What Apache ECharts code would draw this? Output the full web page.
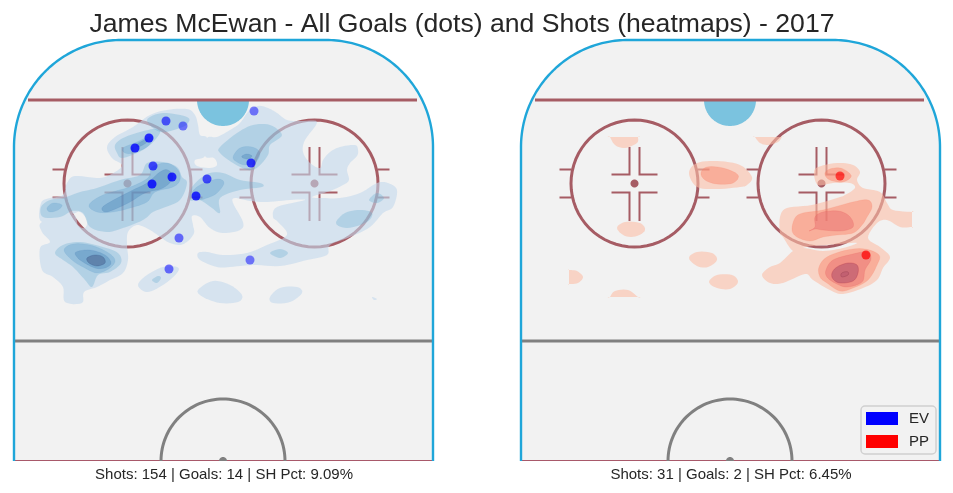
<!DOCTYPE html>
<html><head><meta charset="utf-8">
<style>html,body{margin:0;padding:0;background:#fff}#c{width:953px;height:493px}</style>
<script src="https://cdn.jsdelivr.net/npm/echarts@6/dist/echarts.min.js"></script>
</head><body><div id="c"></div>
<script>
const chartTitle = 'James McEwan - All Goals (dots) and Shots (heatmaps) - 2017';
const evCaption = 'Shots: 154 | Goals: 14 | SH Pct: 9.09%';
const ppCaption = 'Shots: 31 | Goals: 2 | SH Pct: 6.45%';

// goals in rink units (x from the left boards, y from the far boards)
const evGoals = [[152,81],[169,86],[135,98],[121,108],[139,126],[158,137],[138,144],[193,139],[182,156],[240,71],[237,123],[165,198],[155,229],[236,220]];
const evGoalDepth = [.62,.5,.8,.8,.68,.8,.82,.66,.8,.5,.75,.55,.55,.5];
const ppGoals = [[319,136],[345,215]];
const ppGoalDepth = [.65,.72];

// shot density contours, one list of outlines per level
const evLevel1 = [
 [[27,163],[36,158],[49,155],[53,143],[61,136],[86,138],[101,132],[108,125],[98,118],[93,107],[101,97],[119,87],[136,75],[153,70],[173,69],[181,75],[184,85],[186,95],[193,98],[191,116],[181,120],[183,126],[196,128],[203,125],[200,118],[191,116],[193,98],[203,97],[216,90],[226,83],[234,72],[244,66],[254,68],[263,73],[273,80],[286,81],[303,82],[291,100],[289,112],[296,123],[306,128],[309,120],[316,112],[326,107],[341,105],[344,110],[343,116],[336,123],[333,130],[335,140],[329,145],[316,151],[298,157],[309,158],[326,158],[346,153],[363,143],[374,143],[383,150],[379,167],[369,173],[356,187],[336,197],[316,205],[313,215],[293,220],[266,226],[239,225],[216,227],[203,227],[186,220],[184,213],[193,212],[209,215],[233,213],[253,205],[273,195],[264,182],[259,177],[263,167],[291,160],[276,160],[253,162],[236,161],[221,158],[219,163],[229,182],[226,190],[209,193],[196,188],[186,177],[178,176],[179,185],[180,193],[174,201],[166,205],[156,203],[149,199],[136,190],[123,185],[114,192],[113,205],[114,220],[109,233],[96,240],[83,247],[70,252],[68,263],[51,262],[49,247],[39,237],[28,230],[26,208],[36,202],[28,192],[28,182],[58,174],[64,185],[71,188],[73,180],[66,172],[58,174],[28,182]],
 [[124,245],[133,235],[149,227],[163,227],[163,233],[149,245],[133,252]],
 [[184,250],[199,241],[216,245],[228,255],[224,262],[206,263],[189,257]],
 [[256,257],[266,248],[283,247],[288,253],[276,262],[259,263]],
 [[358,257],[363,259],[360,260]]
];
const evLevel2 = [
 [[27,167],[36,160],[49,158],[66,152],[83,148],[106,140],[126,135],[133,123],[149,122],[163,127],[168,137],[173,143],[166,160],[149,168],[139,172],[129,180],[109,188],[93,192],[76,187],[69,173],[58,171],[46,177],[29,177]],
 [[101,105],[109,98],[126,92],[141,89],[146,93],[136,105],[123,113],[108,118],[103,113]],
 [[133,80],[149,73],[173,77],[174,83],[166,88],[146,92]],
 [[41,213],[49,205],[66,202],[89,207],[104,213],[107,223],[96,232],[84,235],[78,247],[71,240],[59,227],[49,220]],
 [[178,147],[193,134],[209,133],[226,140],[246,143],[248,147],[226,150],[206,158],[206,173],[198,168],[186,160],[176,160]],
 [[206,107],[223,93],[239,85],[256,85],[268,95],[256,105],[254,115],[244,127],[234,130],[219,123],[206,113]],
 [[322,183],[331,173],[346,170],[358,173],[353,182],[333,188]],
 [[355,160],[363,153],[370,158],[363,163]],
 [[256,213],[266,209],[274,213],[266,218]],
 [[138,240],[144,236],[147,238],[143,243]]
];
const evLevel3 = [
 [[75,165],[89,155],[116,147],[131,140],[136,135],[138,127],[153,123],[164,130],[166,140],[159,147],[141,152],[133,162],[116,168],[99,172],[83,172]],
 [[109,108],[123,102],[134,97],[139,98],[133,107],[119,113],[111,113]],
 [[33,168],[39,163],[48,165],[44,170],[36,172]],
 [[50,210],[59,204],[76,205],[93,212],[101,220],[96,228],[83,233],[69,227],[58,220]],
 [[178,153],[186,145],[203,139],[210,143],[203,153],[193,158],[183,160]],
 [[219,117],[226,108],[238,107],[246,113],[241,123],[231,125],[223,122]]
];
const evLevel4 = [
 [[88,168],[96,162],[119,150],[133,143],[146,132],[154,130],[159,138],[149,148],[131,153],[116,162],[99,170],[91,172]],
 [[123,104],[133,99],[132,103],[124,107]],
 [[62,212],[76,210],[91,215],[97,223],[91,228],[81,228],[69,222],[63,217]],
 [[228,116],[233,114],[238,116],[234,119],[229,118]]
];
const evLevel5 = [
 [[73,218],[81,215],[89,217],[91,223],[83,226],[75,223]]
];
const ppLevel1 = [
 [[293,133],[297,127],[316,123],[332,125],[339,132],[336,140],[342,148],[359,152],[366,163],[372,170],[391,172],[391,172],[391,187],[391,187],[379,187],[366,180],[356,183],[347,198],[359,207],[369,217],[362,228],[356,240],[342,248],[322,254],[309,250],[292,240],[284,234],[262,243],[249,243],[241,235],[249,227],[259,223],[272,211],[282,208],[302,211],[322,208],[336,203],[319,204],[291,206],[282,208],[272,211],[262,197],[259,193],[259,177],[266,168],[291,165],[316,158],[324,155],[334,148],[329,143],[312,143],[297,145]],
 [[89,97],[89,97],[117,97],[117,97],[116,103],[104,108],[94,105]],
 [[96,188],[104,182],[119,183],[124,190],[116,196],[104,196]],
 [[168,133],[176,123],[196,121],[219,125],[231,137],[226,145],[219,147],[196,149],[176,147]],
 [[168,218],[176,212],[191,213],[196,220],[187,227],[176,226]],
 [[188,242],[196,235],[211,235],[217,242],[209,249],[196,248]],
 [[48,230],[48,230],[56,231],[62,237],[57,243],[48,244],[48,244]],
 [[89,257],[89,257],[94,251],[107,250],[117,257],[117,257]],
 [[234,97],[234,97],[261,97],[261,97],[257,102],[247,105],[239,103]]
];
const ppLevel2 = [
 [[180,133],[186,127],[202,128],[217,135],[212,143],[196,144],[184,140]],
 [[304,133],[309,129],[319,128],[327,132],[330,137],[322,142],[312,141],[306,138]],
 [[271,190],[274,178],[282,173],[302,170],[332,162],[347,160],[351,167],[346,177],[341,185],[332,193],[316,195],[302,197],[289,201],[276,197]],
 [[298,227],[306,217],[326,210],[344,209],[358,215],[356,225],[347,240],[332,248],[319,251],[306,243],[299,237]]
];
const ppLevel3 = [
 [[288,191],[294,187],[294,177],[302,172],[317,171],[327,175],[332,182],[331,188],[319,191],[302,190],[294,189]],
 [[305,230],[312,220],[332,214],[346,212],[350,219],[344,230],[341,242],[326,247],[314,243],[306,237]]
];
const ppLevel4 = [
 [[311,233],[316,227],[327,223],[336,225],[337,233],[332,241],[319,243],[312,239]]
];
const ppLevel5 = [
 [[320,234],[323,232],[327,232],[327,235],[321,237]]
];

// rink geometry in rink units
const rinkW = 419, rinkH = 421, cornerR = 107;
const goalLine = 60, blueLine = 301, centerX = 209;
const creaseR = 26, centerCircleR = 62, centerDotR = 4;
const faceoffXs = [113.5, 300.5], faceoffY = 143.5, faceoffR = 63.5, faceoffDotR = 4;

const rinkRed = '#a65c64', rinkBlue = '#1fa6d9', rinkGrey = '#808080';

function arc(cx, cy, rx, ry, a0, a1) {
  const pts = [];
  const n = 64;
  for (let i = 0; i <= n; i++) {
    const a = (a0 + (a1 - a0) * i / n) * Math.PI / 180;
    pts.push([cx + rx * Math.cos(a), cy + ry * Math.sin(a)]);
  }
  return pts;
}
function rounded(outline) {
  // closed Catmull-Rom pass through the traced outline points
  const out = [], n = outline.length;
  for (let i = 0; i < n; i++) {
    const p0 = outline[(i - 1 + n) % n], p1 = outline[i], p2 = outline[(i + 1) % n], p3 = outline[(i + 2) % n];
    for (let k = 0; k < 6; k++) {
      const t = k / 6, t2 = t * t, t3 = t2 * t;
      out.push([0, 1].map(d => 0.5 * (2 * p1[d] + (p2[d] - p0[d]) * t + (2 * p0[d] - 5 * p1[d] + 4 * p2[d] - p3[d]) * t2 + (3 * p1[d] - p0[d] - 3 * p2[d] + p3[d]) * t3)));
    }
  }
  return out;
}
function rinkShapes() {
  const s = [];
  const outline = [...arc(cornerR, cornerR, cornerR, cornerR, 180, 270), ...arc(rinkW - cornerR, cornerR, cornerR, cornerR, 270, 360)];
  s.push({ poly: [[0, rinkH], ...outline, [rinkW, rinkH]], fill: '#f2f2f2' });
  s.push({ poly: arc(centerX, goalLine, creaseR, creaseR, 0, 180), fill: '#7bc3df' });
  s.push({ line: [[14, goalLine], [rinkW - 16, goalLine]], stroke: rinkRed, w: 3 });
  s.push({ line: [[0, blueLine], [rinkW, blueLine]], stroke: rinkGrey, w: 3 });
  s.push({ line: [[0, rinkH - 0.5], [rinkW, rinkH - 0.5]], stroke: '#a8596a', w: 1.2 });
  s.push({ line: arc(centerX, rinkH, centerCircleR, centerCircleR, 180, 360), stroke: rinkGrey, w: 3 });
  s.push({ poly: arc(centerX, rinkH, centerDotR, centerDotR, 180, 360), fill: rinkGrey });
  faceoffXs.forEach(x => {
    const y = faceoffY;
    s.push({ line: arc(x, y, faceoffR, faceoffR, 0, 360), stroke: rinkRed, w: 3 });
    s.push({ poly: arc(x, y, faceoffDotR, faceoffDotR, 0, 360), fill: rinkRed });
    [-1, 1].forEach(sx => {
      s.push({ line: [[x + sx * 63, y - 14], [x + sx * 75, y - 14]], stroke: rinkRed, w: 2 });
      s.push({ line: [[x + sx * 63, y + 14], [x + sx * 75, y + 14]], stroke: rinkRed, w: 2 });
      s.push({ line: [[x + sx * 5, y - 36.5], [x + sx * 5, y - 9], [x + sx * 23, y - 9]], stroke: rinkRed, w: 2 });
      s.push({ line: [[x + sx * 5, y + 37.5], [x + sx * 5, y + 9], [x + sx * 23, y + 9]], stroke: rinkRed, w: 2 });
    });
  });
  s.push({ line: [[0, rinkH], ...outline, [rinkW, rinkH]], stroke: rinkBlue, w: 2.4 });
  return s;
}

function shapeSeries(grid, shapes, z) {
  return {
    type: 'custom', xAxisIndex: grid, yAxisIndex: grid, z, silent: true, clip: false,
    data: shapes.map((_, i) => [i, 0]),
    renderItem(params, api) {
      const s = shapes[params.dataIndex];
      const pts = (s.poly || s.line).map(p => api.coord(p));
      return {
        type: s.poly ? 'polygon' : 'polyline',
        shape: { points: pts },
        style: {
          fill: s.poly ? s.fill : null,
          stroke: s.stroke || null,
          lineWidth: s.w || 0,
          opacity: s.opacity == null ? 1 : s.opacity
        }
      };
    }
  };
}
function levelSeries(grid, outlines, fill, opacity, stroke, z) {
  return shapeSeries(grid, outlines.map(o => ({ poly: rounded(o), fill, opacity, stroke, w: stroke ? 0.6 : 0 })), z);
}
function goalSeries(name, grid, goals, depth, color) {
  return {
    name, type: 'scatter', xAxisIndex: grid, yAxisIndex: grid, z: 20, symbolSize: 9, silent: true,
    itemStyle: { color },
    data: goals.map((g, i) => ({ value: g, itemStyle: { color, opacity: depth[i] } }))
  };
}

const rink = rinkShapes();
const font = '"Liberation Sans", Arial, sans-serif';
const option = {
  animation: false,
  backgroundColor: '#fff',
  title: [
    { text: chartTitle, left: 461.5, top: 6, textAlign: 'center', textStyle: { fontFamily: font, fontSize: 26.6, fontWeight: 'normal', color: '#262626' } },
    { text: evCaption, left: 223.5, top: 462, textAlign: 'center', textStyle: { fontFamily: font, fontSize: 15, fontWeight: 'normal', color: '#262626' } },
    { text: ppCaption, left: 730.5, top: 462, textAlign: 'center', textStyle: { fontFamily: font, fontSize: 15, fontWeight: 'normal', color: '#262626' } }
  ],
  grid: [
    { left: 14, top: 40, width: rinkW, height: rinkH },
    { left: 521, top: 40, width: rinkW, height: rinkH }
  ],
  xAxis: [0, 1].map(g => ({ gridIndex: g, type: 'value', min: 0, max: rinkW, show: false })),
  yAxis: [0, 1].map(g => ({ gridIndex: g, type: 'value', min: 0, max: rinkH, inverse: true, show: false })),
  legend: {
    orient: 'vertical', left: 861, top: 406, padding: [5, 7, 5, 5], itemWidth: 32, itemHeight: 13, itemGap: 8,
    backgroundColor: '#f2f2f2', borderColor: '#d0d0d0', borderWidth: 1.5, borderRadius: 4, selectedMode: false,
    textStyle: { fontFamily: font, fontSize: 15, color: '#262626', padding: [0, 0, 0, 6] },
    data: [
      { name: 'EV', icon: 'rect', itemStyle: { color: '#0000ff', opacity: 1 } },
      { name: 'PP', icon: 'rect', itemStyle: { color: '#ff0000', opacity: 1 } }
    ]
  },
  series: [
    shapeSeries(0, rink, 1),
    shapeSeries(1, rink, 1),
    levelSeries(0, evLevel1, '#c3d9ed', .6, null, 5),
    levelSeries(0, evLevel2, '#61aacd', .3, null, 6),
    levelSeries(0, evLevel3, '#4a90c4', .28, 'rgba(60,130,190,.45)', 7),
    levelSeries(0, evLevel4, '#2f6fae', .28, 'rgba(30,90,160,.55)', 8),
    levelSeries(0, evLevel5, '#323c6e', .35, 'rgba(20,50,110,.8)', 9),
    levelSeries(1, ppLevel1, '#fcbea7', .6, null, 5),
    levelSeries(1, ppLevel2, '#fa8167', .45, 'rgba(250,120,90,.55)', 6),
    levelSeries(1, ppLevel3, '#e76b6d', .45, 'rgba(230,80,80,.6)', 7),
    levelSeries(1, ppLevel4, '#aa4868', .5, 'rgba(170,40,60,.8)', 8),
    levelSeries(1, ppLevel5, '#aa4868', .3, 'rgba(90,10,30,.9)', 9),
    goalSeries('EV', 0, evGoals, evGoalDepth, '#0000ff'),
    goalSeries('PP', 1, ppGoals, ppGoalDepth, '#ff0000')
  ]
};
option.title[0].left = 457;
option.title[1].left = 219;
option.title[2].left = 726;
const chart = echarts.init(document.getElementById('c'), null, { renderer: 'canvas' });
chart.setOption(option);
</script>
</body></html>
